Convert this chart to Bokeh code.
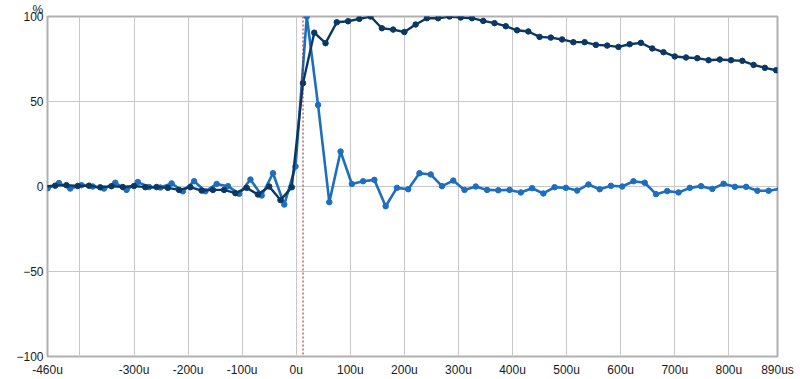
import numpy as np
from bokeh.plotting import figure
from bokeh.models import Range1d, FixedTicker, Span, ColumnDataSource
from bokeh.embed import file_html
from bokeh.resources import INLINE

# ---- data ----
sample_period_us = 1e6 / 48000.0
first_index = -23
step_start_us = 12.5      # time of sample index 0 of the step response
impulse_start_us = 19.5   # time of sample index 0 of the impulse response
marker_time_us = 12.5     # red dashed reference marker

impulse_pct = [
    -1.0, 2.0, -1.2, 0.8, 0.0, -1.2, 2.2, -2.0, 2.6, -0.3, -0.6, 1.8,
    -2.8, 3.1, -2.8, 1.5, 0.2, -4.3, 4.1, -5.3, 7.8, -10.6, 11.8,
    100.0, 48.0, -9.2, 20.6, 1.5, 3.1, 3.9, -11.6, -0.8, -1.6, 7.8, 7.1,
    0.2, 3.5, -2.0, 0.0, -2.0, -2.2, -2.0, -3.5, -1.0, -4.1, -0.4, -0.8,
    -2.4, 1.2, -1.6, 0.4, 0.0, 3.1, 2.2, -4.5, -2.7, -3.5, -0.8, 0.2,
    -1.4, 1.6, -0.2, -0.2, -2.5, -2.5, -1.3,
]

step_pct = [
    0.0, 0.5, 0.8, 0.3, 0.5, -0.5, 0.2, -0.3, 0.3, -0.4, -0.3, -0.8,
    -2.0, -0.4, -2.4, -2.0, -2.0, -3.9, -0.8, -4.7, 0.0, -8.0, -0.4,
    60.8, 90.5, 84.3, 96.6, 97.2, 98.6, 100.0, 93.1, 92.3, 90.9, 95.3,
    99.0, 99.0, 100.0, 99.4, 99.0, 97.4, 96.1, 94.3, 91.9, 91.2, 88.0,
    87.6, 86.5, 84.9, 84.9, 83.3, 82.9, 82.1, 83.7, 84.5, 81.2, 79.0,
    76.5, 75.9, 75.5, 74.3, 74.7, 74.3, 73.9, 71.5, 69.8, 68.4,
]

y_unit = "%"
x_label_ticks = [-460, -300, -200, -100, 0, 100, 200, 300, 400, 500, 600, 700, 800, 890]
x_grid_ticks = [-400, -300, -200, -100, 0, 100, 200, 300, 400, 500, 600, 700, 800]
y_label_ticks = [-100, -50, 0, 50, 100]
y_grid_ticks = [-50, 0, 50]

idx_imp = np.arange(first_index, first_index + len(impulse_pct))
idx_step = np.arange(first_index, first_index + len(step_pct))
t_imp = impulse_start_us + sample_period_us * idx_imp
t_step = step_start_us + sample_period_us * idx_step

FONT = "Liberation Sans"
DARK = "#0b3763"
LIGHT = "#1e6ebe"

p = figure(width=800, height=379,
           x_range=Range1d(-460, 890), y_range=Range1d(-100, 100),
           output_backend="svg", toolbar_location=None,
           min_border_left=47, min_border_right=23,
           min_border_top=16, min_border_bottom=22)

p.title.text = y_unit
p.title.align = "left"
p.title.offset = -15
p.title.standoff = 0
p.title.text_font = FONT
p.title.text_font_size = "12px"
p.title.text_font_style = "normal"
p.title.text_color = "#1a1a1a"

p.background_fill_color = "white"
p.border_fill_color = "white"
p.outline_line_color = "#b0b0b0"
p.outline_line_width = 2

p.xgrid.ticker = FixedTicker(ticks=x_grid_ticks)
p.ygrid.ticker = FixedTicker(ticks=y_grid_ticks)
p.grid.grid_line_color = "#c8c8c8"
p.grid.grid_line_width = 1

p.xaxis.ticker = FixedTicker(ticks=x_label_ticks)
overrides = {v: f"{v}u" for v in x_label_ticks}
overrides[890] = "890us"
p.xaxis.major_label_overrides = overrides
p.yaxis.ticker = FixedTicker(ticks=y_label_ticks)

for ax in (p.xaxis, p.yaxis):
    ax.axis_line_color = None
    ax.major_tick_line_color = None
    ax.minor_tick_line_color = None
    ax.major_tick_out = 0
    ax.major_tick_in = 0
    ax.major_label_text_font = FONT
    ax.major_label_text_font_size = "12px"
    ax.major_label_text_color = "#1a1a1a"
p.xaxis.major_label_standoff = 6
p.yaxis.major_label_standoff = 4

src_imp = ColumnDataSource(dict(t=t_imp, v=impulse_pct))
src_step = ColumnDataSource(dict(t=t_step, v=step_pct))

p.add_layout(Span(location=marker_time_us, dimension="height",
                  line_color="#a01818", line_dash="2 2", line_width=1))

p.line("t", "v", source=src_imp, line_color=LIGHT, line_width=2.6)
p.scatter("t", "v", source=src_imp, size=5.5, fill_color=LIGHT, line_color=LIGHT)
p.line("t", "v", source=src_step, line_color=DARK, line_width=2.4)
p.scatter("t", "v", source=src_step, size=5.5, fill_color=DARK, line_color=DARK)

open("out.html", "w").write(file_html(p, INLINE))
